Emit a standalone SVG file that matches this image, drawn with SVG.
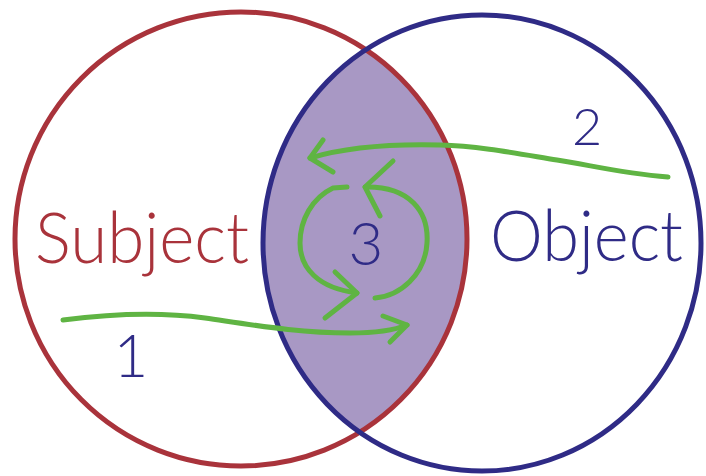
<svg xmlns="http://www.w3.org/2000/svg" width="706" height="476" viewBox="0 0 706 476">
<defs>
<clipPath id="redClip"><ellipse cx="241" cy="239" rx="226" ry="227"/></clipPath>
</defs>
<style>
.ring{fill:none;stroke-width:5}
.g{fill:none;stroke:#5fb443;stroke-width:5;stroke-linecap:round;stroke-linejoin:round}
.lbl{font-family:"Lato","Open Sans","DejaVu Sans",sans-serif;font-weight:300}
</style>
<rect width="706" height="476" fill="#ffffff"/>
<g id="lens">
<ellipse cx="482" cy="243" rx="219" ry="228" fill="#a898c4" clip-path="url(#redClip)"/>
</g>
<g id="subject">
<ellipse class="ring" cx="241" cy="239" rx="226" ry="227" stroke="#a9333b"/>
<text class="lbl" x="35" y="263" font-size="70" fill="#a9333b" textLength="214" lengthAdjust="spacingAndGlyphs">Subject</text>
</g>
<g id="object">
<ellipse class="ring" cx="482" cy="243" rx="219" ry="228" stroke="#2f2b86"/>
<text class="lbl" x="490" y="261" font-size="70" fill="#2f2b86" textLength="193" lengthAdjust="spacingAndGlyphs">Object</text>
</g>
<g id="labels" class="lbl" fill="#2f2b86">
<text x="587" y="145" font-size="52" text-anchor="middle">2</text>
<text x="366" y="265" font-size="60" text-anchor="middle">3</text>
<text x="131" y="377" font-size="60" text-anchor="middle">1</text>
</g>
<g id="connectors">
<path class="g" d="M63,320 C110,314 160,312 205,318 C260,326 300,333 350,333 C375,333 395,330 407,325"/>
<path class="g" d="M383,316 L407,325 L390,342"/>
<path class="g" d="M668,177 C620,173 590,165 557,160 C520,154 480,146 440,145 C400,144 350,146 310,158"/>
<path class="g" d="M323,140 L310,158 L333,172"/>
<path class="g" d="M347,187 L333,188 C312,198 300,220 300,243 C300,268 318,288 357,293"/>
<path class="g" d="M335,272 L357,293 L325,318"/>
<path class="g" d="M375,298 C400,296 425,275 427,243 C429,212 410,186 365,187"/>
<path class="g" d="M393,161 L365,187 L380,216"/>
</g>
</svg>
